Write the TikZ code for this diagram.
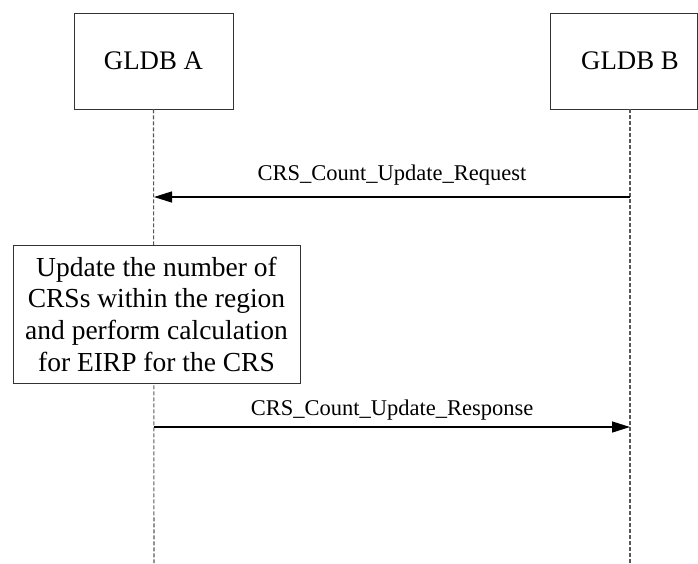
\documentclass[tikz,border=0pt]{standalone}
\usepackage{fontspec}
\setmainfont{Liberation Serif}
\usetikzlibrary{arrows.meta}

\tikzset{
  entity/.style={draw=black!80, line width=0.9pt, fill=white, minimum width=159pt, minimum height=96pt, inner sep=0pt, font=\fontsize{26.8}{30}\selectfont},
  lifeline/.style={draw=black!65, line width=1.1pt, dash pattern=on 4pt off 2pt},
  msg/.style={line width=1.4pt, -{Triangle[length=18pt,width=11pt]}},
  msglabel/.style={font=\fontsize{22.5}{26}\selectfont, inner sep=0pt, anchor=base},
  action/.style={draw=black!80, line width=0.9pt, fill=white, minimum width=287pt, minimum height=138pt, align=center, inner sep=0pt, font=\fontsize{27.5}{31.7}\selectfont}
}

\begin{document}
\begin{tikzpicture}[x=1pt, y=-1pt]

\useasboundingbox (0,0) rectangle (698,563);

% the two databases
\node[entity] (glA) at (153.5,61) {GLDB A};
\node[entity, minimum width=147pt] (glB) at (623.5,61) {\hspace*{13pt}GLDB B};

% lifelines
\coordinate (topB) at (630,109);
\coordinate (endA) at (154,563);
\coordinate (endB) at (630,563);
\draw[lifeline] (glA.south) -- (endA);
\draw[lifeline] (topB) -- (endB);

% request from B to A
\coordinate (reqB) at (630,197);
\coordinate (reqA) at (154,197);
\draw[msg] (reqB) -- (reqA) node[msglabel, midway, yshift=17pt] {CRS\_Count\_Update\_Request};

% local processing at A
\node[action] (upd) at (156.5,314) {Update the number of\\CRSs within the region\\and perform calculation\\for EIRP for the CRS};

% response from A to B
\coordinate (resA) at (154,427);
\coordinate (resB) at (630,427);
\draw[msg] (resA) -- (resB) node[msglabel, midway, yshift=11.6pt] {CRS\_Count\_Update\_Response};

\end{tikzpicture}
\end{document}
